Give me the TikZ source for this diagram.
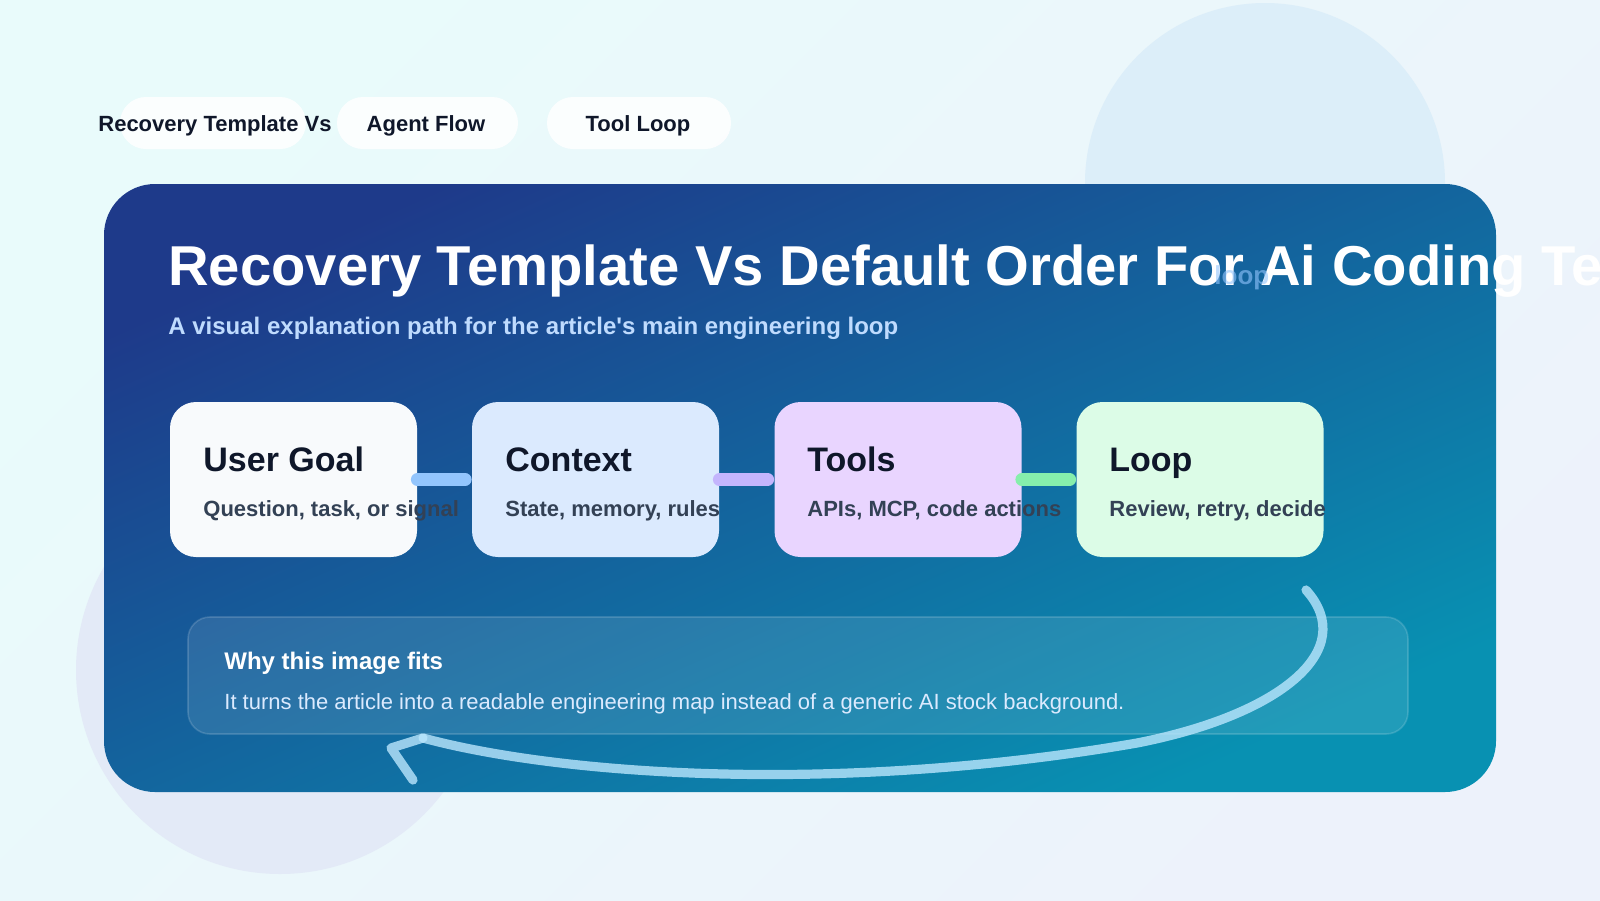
\documentclass[tikz,border=0pt]{standalone}
\usepackage{fontspec}
\setmainfont{Liberation Sans}[Ligatures=TeXOff]
\definecolor{bgA}{HTML}{E9FBFB}
\definecolor{bgB}{HTML}{EDF2FB}
\definecolor{circA}{HTML}{DCEEF9}
\definecolor{circB}{HTML}{E3EAF7}
\definecolor{panelA}{HTML}{1E3A8A}
\definecolor{panelB}{HTML}{0891B2}
\definecolor{ink}{HTML}{0F172A}
\definecolor{slate}{HTML}{334155}
\definecolor{goalfill}{HTML}{F8FAFC}
\definecolor{ctxfill}{HTML}{DBEAFE}
\definecolor{toolfill}{HTML}{E9D5FF}
\definecolor{loopfill}{HTML}{DCFCE7}
\definecolor{linkA}{HTML}{93C5FD}
\definecolor{linkB}{HTML}{C4B5FD}
\definecolor{linkC}{HTML}{86EFAC}
\definecolor{subc}{HTML}{BFDBFE}
\definecolor{bodyc}{HTML}{DBEAFE}
\definecolor{retc}{HTML}{BAE6FD}

\begin{document}
\begin{tikzpicture}[x=0.5pt,y=-0.5pt,
    card/.style={rounded corners=13pt,minimum width=123.5pt,minimum height=77.5pt,inner sep=0pt},
    cardtitle/.style={anchor=base west,inner sep=0pt,text=ink,font=\fontsize{17}{20}\selectfont\bfseries},
    carddesc/.style={anchor=base west,inner sep=0pt,text=slate,font=\fontsize{11}{13}\selectfont\bfseries},
    conn/.style={line width=6.5pt,line cap=round,shorten >=3.25pt},
    pill/.style={fill=white,fill opacity=0.85,rounded corners=13pt,minimum height=26pt,inner sep=0pt},
    pilltext/.style={inner sep=0pt,text=ink,font=\fontsize{11}{13}\selectfont\bfseries},
    whybox/.style={fill=white,fill opacity=0.1,draw=white,draw opacity=0.15,line width=0.8pt,
      rounded corners=11pt,minimum width=610pt,minimum height=58.5pt,inner sep=0pt},
    ret/.style={line width=4.6pt,line cap=round,line join=round,draw=retc,draw opacity=0.8}]
  \useasboundingbox (0,0) rectangle (1600,900);
  \clip (0,0) rectangle (1600,900);
  % backdrop
  \shade[top color=bgA,bottom color=bgB,shading angle=45] (0,0) rectangle (1600,900);
  \fill[circA] (1265,183) circle (90pt);
  \fill[circB] (280,670) circle (102pt);

  % tags on top
  \node[pill,minimum width=93pt] (pillA) at (213,123) {};
  \node[pill,minimum width=90.5pt] (pillB) at (427.5,123) {};
  \node[pill,minimum width=92pt] (pillC) at (639,123) {};
  \node[pilltext,anchor=base west] (tagA) at (98,131) {Recovery Template Vs};
  \node[pilltext,anchor=base] (tagB) at (426,131) {Agent Flow};
  \node[pilltext,anchor=base] (tagC) at (638,131) {Tool Loop};

  % main panel
  \shade[rounded corners=25.5pt,top color=panelA,bottom color=panelB,shading angle=24]
    (104,184) rectangle (1496,792);
  \node[anchor=base west,inner sep=0pt,text=white,font=\fontsize{28.1}{32}\selectfont\bfseries]
    (head) at (168,285) {Recovery Template Vs Default Order For Ai Coding Te};
  \node[anchor=base west,inner sep=0pt,text=linkA,text opacity=0.6,font=\fontsize{13}{15}\selectfont\bfseries]
    (ghost) at (1214,284) {loop};
  \node[anchor=base west,inner sep=0pt,text=subc,font=\fontsize{12}{14}\selectfont\bfseries]
    (sub) at (168,334) {A visual explanation path for the article's main engineering loop};

  % the four steps
  \node[card,fill=goalfill] (goal) at (293.5,479.5) {};
  \node[card,fill=ctxfill] (ctx) at (595.5,479.5) {};
  \node[card,fill=toolfill] (tools) at (898,479.5) {};
  \node[card,fill=loopfill] (loopc) at (1200,479.5) {};
  \draw[conn,draw=linkA] (goal.east) -- (ctx.west);
  \draw[conn,draw=linkB] (ctx.east) -- (tools.west);
  \draw[conn,draw=linkC] (tools.east) -- (loopc.west);
  \node[cardtitle] (goalT) at (203,471) {User Goal};
  \node[carddesc] (goalD) at (203,516) {Question, task, or signal};
  \node[cardtitle] (ctxT) at (505,471) {Context};
  \node[carddesc] (ctxD) at (505,516) {State, memory, rules};
  \node[cardtitle] (toolsT) at (807,471) {Tools};
  \node[carddesc] (toolsD) at (807,516) {APIs, MCP, code actions};
  \node[cardtitle] (loopT) at (1109,471) {Loop};
  \node[carddesc] (loopD) at (1109,516) {Review, retry, decide};

  % note
  \node[whybox] (why) at (798,675.5) {};
  \node[anchor=base west,inner sep=0pt,text=white,font=\fontsize{12}{14}\selectfont\bfseries]
    (whyT) at (224,669) {Why this image fits};
  \node[anchor=base west,inner sep=0pt,text=bodyc,font=\fontsize{11}{13}\selectfont]
    (whyB) at (224,709) {It turns the article into a readable engineering map instead of a generic AI stock background.};

  % return arrow
  \coordinate (retStart) at (1306,590);
  \coordinate (retEnd) at (423,738);
  \coordinate (retTip) at (391,748);
  \coordinate (retTail) at (413,780);
  \draw[ret] (retStart) .. controls (1360,650) and (1280,715) .. (1137,743)
    .. controls (837,795) and (560,775) .. (retEnd);
  \draw[ret] (retEnd) -- (retTip) -- (retTail);
\end{tikzpicture}
\end{document}
